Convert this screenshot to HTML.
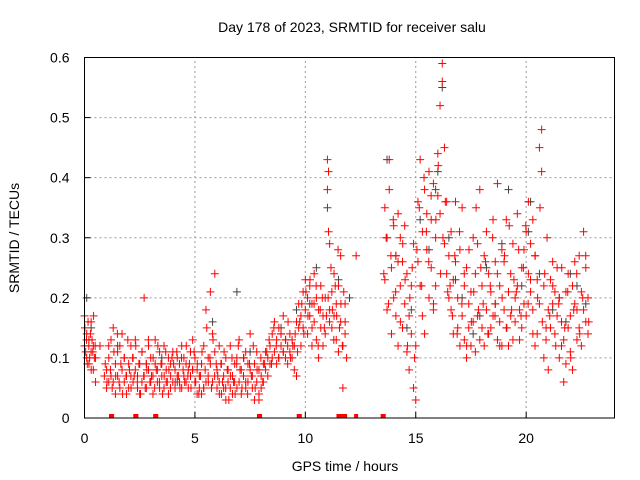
<!DOCTYPE html>
<html><head><meta charset="utf-8"><style>
html,body{margin:0;padding:0;background:#fff;}
svg{display:block;font-family:"Liberation Sans",sans-serif;}
</style></head><body>
<svg id="chart" width="640" height="480" viewBox="0 0 640 480">
<rect width="640" height="480" fill="#fff"/>
<text x="352" y="32" font-size="14" text-anchor="middle" fill="#000">Day 178 of 2023, SRMTID for receiver salu</text>
<text x="345" y="471" font-size="14" text-anchor="middle" fill="#000">GPS time / hours</text>
<text transform="translate(19,238) rotate(-90)" font-size="14" text-anchor="middle" fill="#000">SRMTID / TECUs</text>
<g id="grid"></g><g id="ticks"></g><g id="gray"></g><g id="red"></g>
<rect x="84.5" y="57.5" width="530" height="360.5" fill="none" stroke="#000" stroke-width="1"/>
</svg>
<script>
const xTicks=[0,5,10,15,20];
const yTicks=[0,0.1,0.2,0.3,0.4,0.5,0.6];
const yTickLabels=["0","0.1","0.2","0.3","0.4","0.5","0.6"];
const redTimes=[0,0.1,0.2,0.3,0.4,0.5,0.7,0.9,1.0,1.1,1.2,1.3,1.4,1.5,1.6,1.7,1.8,1.9,2.0,2.1,2.2,2.3,2.4,2.5,2.6,2.7,2.8,2.9,3.0,3.1,3.2,3.3,3.4,3.5,3.6,3.7,3.8,3.9,4.0,4.1,4.2,4.3,4.4,4.5,4.6,4.7,4.8,4.9,5.0,5.1,5.2,5.3,5.4,5.5,5.6,5.7,5.8,5.9,6.0,6.1,6.2,6.3,6.4,6.5,6.6,6.7,6.8,6.9,7.0,7.1,7.2,7.3,7.4,7.5,7.6,7.7,7.8,7.9,8.0,8.1,8.2,8.3,8.4,8.5,8.6,8.7,8.8,8.9,9.0,9.1,9.2,9.3,9.4,9.5,9.6,9.7,9.8,9.9,10.0,10.1,10.2,10.3,10.4,10.5,10.6,10.7,10.8,10.9,11.0,11.05,11.1,11.2,11.3,11.4,11.5,11.6,11.7,11.8,12.3,13.6,13.7,13.8,13.9,14.0,14.1,14.2,14.3,14.4,14.5,14.6,14.7,14.8,14.9,15.0,15.1,15.2,15.3,15.4,15.5,15.6,15.7,15.8,15.9,16.0,16.1,16.2,16.3,16.4,16.5,16.6,16.7,16.8,16.9,17.0,17.1,17.2,17.3,17.4,17.5,17.6,17.7,17.8,17.9,18.0,18.1,18.2,18.3,18.4,18.5,18.6,18.7,18.8,18.9,19.0,19.1,19.2,19.3,19.4,19.5,19.6,19.7,19.8,19.9,20.0,20.1,20.2,20.3,20.4,20.5,20.6,20.7,20.8,20.9,21.0,21.1,21.2,21.3,21.4,21.5,21.6,21.7,21.8,21.9,22.0,22.1,22.2,22.3,22.4,22.5,22.6,22.7,22.8];
const redValsA=[.12,.10,.13,.11,.08,.10,.12,.07,.08,.10,.13,.06,.09,.11,.05,.08,.10,.07,.09,.12,.06,.08,.05,.09,.11,.07,.05,.08,.06,.04,.09,.06,.11,.07,.05,.08,.10,.07,.06,.08,.10,.06,.12,.07,.09,.05,.11,.08,.06,.04,.07,.09,.05,.06,.10,.21,.14,.24,.08,.06,.04,.07,.10,.06,.05,.07,.09,.05,.06,.04,.07,.11,.06,.08,.05,.09,.06,.04,.07,.09,.08,.10,.12,.14,.11,.13,.10,.12,.11,.13,.09,.14,.10,.12,.07,.15,.17,.21,.18,.14,.22,.19,.16,.13,.18,.15,.17,.20,.43,.31,.18,.21,.17,.13,.22,.16,.12,.19,.27,.23,.30,.43,.25,.32,.17,.34,.22,.15,.19,.11,.08,.14,.05,.03,.36,.43,.31,.38,.28,.20,.33,.39,.30,.44,.52,.59,.45,.36,.27,.18,.23,.36,.20,.28,.17,.13,.25,.15,.21,.30,.11,.17,.38,.22,.12,.18,.24,.15,.33,.19,.39,.22,.12,.26,.15,.21,.17,.29,.20,.34,.13,.25,.19,.31,.24,.21,.18,.27,.14,.45,.48,.22,.15,.18,.23,.19,.14,.25,.10,.16,.13,.21,.24,.17,.22,.19,.13,.27,.21,.31,.25,.20];
const redValsB=[.17,.14,.09,.16,.12,.06,null,null,.05,.06,.07,.15,.04,.07,.12,.14,.06,.04,.05,.07,.10,.13,.07,.04,.06,.20,.09,.12,.10,.07,.13,.08,.05,.09,.12,.06,.04,.09,.11,.05,.07,.09,.05,.10,.06,.08,.07,.13,.10,.08,.05,.04,.12,.18,.07,.09,.06,.11,.05,.12,.09,.05,.03,.08,.12,.04,.06,.10,.13,.08,.10,.05,.09,.14,.07,.03,.11,.08,.05,.06,.11,.07,.09,.10,.16,.09,.15,.14,.17,.10,.12,.11,.13,.08,.16,.19,.12,.15,.23,.20,.17,.12,.24,.20,.10,.22,.12,.14,.38,.41,.29,.15,.24,.19,.11,.27,.05,.14,null,.35,.18,.38,.14,.20,.27,.12,.30,.26,.32,.24,.17,.22,.29,.12,.26,.22,.17,.14,.34,.41,.25,.18,.22,.37,.34,.56,.29,.24,.20,.31,.14,.26,.15,.12,.35,.22,.10,.19,.12,.16,.24,.29,.13,.15,.27,.31,.14,.21,.17,.26,.13,.16,.28,.18,.33,.12,.24,.13,.16,.22,.18,.15,.28,.17,.36,.29,.33,.12,.23,.19,.41,.10,.13,.08,.15,.26,.21,.17,.20,.12,.06,.09,.15,.11,.08,.26,.18,.15,.12,.18,.16,.14];
const denseStart=[0,0.9,2,3,4,5,6,7,8.2,9.7,11,13.5,15,16.5,18,19.5,21];
const denseEnd=[0.5,2,3,4,5,6,7,8.2,9.7,11,11.9,15,16.5,18,19.5,21,22.9];
const denseVals=[
[.15,.11,.13,.09,.16,.12,.10,.14,.08,.13,.11,.17,.10,.12],
[.09,.06,.12,.08,.05,.11,.07,.14,.06,.09,.04,.10,.07,.13],
[.08,.05,.10,.07,.12,.06,.09,.04,.11,.07,.05,.08,.13,.06],
[.07,.10,.05,.08,.12,.06,.09,.04,.07,.11,.06,.08,.05,.10],
[.09,.06,.11,.07,.05,.10,.08,.06,.12,.07,.09,.05,.08,.11],
[.06,.09,.04,.07,.11,.05,.08,.15,.06,.10,.05,.13,.07,.09],
[.07,.04,.09,.06,.11,.05,.08,.03,.07,.10,.06,.04,.09,.12],
[.08,.05,.10,.06,.04,.09,.07,.12,.05,.08,.03,.10,.06,.09],
[.11,.13,.09,.15,.12,.10,.14,.11,.13,.16,.10,.12,.14,.11],
[.16,.19,.14,.21,.17,.23,.15,.19,.22,.12,.18,.20,.15,.17],
[.20,.16,.25,.18,.13,.22,.17,.28,.15,.19,.12,.21,.16,.10],
[.24,.30,.19,.27,.33,.21,.26,.16,.29,.23,.12,.20,.25,.10],
[.28,.35,.22,.40,.31,.26,.37,.19,.33,.42,.24,.30,.36,.21],
[.22,.17,.27,.14,.31,.19,.24,.12,.28,.16,.21,.35,.18,.25],
[.19,.26,.14,.22,.30,.17,.24,.12,.20,.27,.15,.32,.18,.23],
[.21,.28,.17,.25,.32,.19,.23,.14,.27,.20,.35,.16,.24,.30],
[.17,.22,.12,.19,.25,.15,.21,.10,.18,.24,.14,.20,.27,.16]];
const zeroTimes=[1.2,1.25,2.3,2.35,3.2,3.25,7.9,7.95,9.7,9.75,11.5,11.6,11.7,11.8,12.3,13.5,13.55];
const grayTimes=[0.1,0.3,1.5,2.8,3.5,4.2,5.8,6.9,7.5,8.9,9.6,10.5,11.0,11.5,12.0,13.7,14.1,14.6,15.2,15.6,16.0,16.2,16.5,17.1,17.6,18.2,18.6,19.2,19.8,20.2,20.6,21.2,21.8,22.3,22.7,10.2,14.8,15.9,16.8,17.9,18.9,20.1,21.5,22.0];
const grayVals=[.20,.15,.12,.09,.10,.06,.16,.21,.11,.15,.18,.25,.35,.23,.20,.43,.27,.15,.33,.28,.41,.55,.30,.20,.14,.25,.19,.38,.22,.36,.24,.18,.16,.22,.19,.19,.18,.38,.23,.17,.29,.31,.20,.24];

const NS="http://www.w3.org/2000/svg";
const X0=84.5,X1=614.5,Y0=418,Y1=57.5,XMAX=24,YMAX=0.6;
function sx(t){return X0+(X1-X0)*t/XMAX;}
function sy(v){return Y0-(Y0-Y1)*v/YMAX;}
function mk(tag,attrs,parent){const e=document.createElementNS(NS,tag);for(const k in attrs)e.setAttribute(k,attrs[k]);parent.appendChild(e);return e;}
const grid=document.getElementById('grid'),ticks=document.getElementById('ticks');
xTicks.forEach((t,i)=>{
  if(t>0){const g=mk('line',{x1:sx(t),x2:sx(t),y1:Y0,y2:Y1,stroke:'#999','stroke-dasharray':'2,3','stroke-width':1},grid);
  
  }
  const l=mk('text',{x:sx(t),y:Y0+25,'font-size':14,'text-anchor':'middle'},ticks);l.textContent=String(t);
  
  
  mk('line',{x1:sx(t),x2:sx(t),y1:Y0,y2:Y0-6,stroke:'#000'},ticks);
});
yTicks.forEach((v,i)=>{
  if(v>0&&v<YMAX){const g=mk('line',{x1:X0,x2:X1,y1:sy(v),y2:sy(v),stroke:'#999','stroke-dasharray':'2,3','stroke-width':1},grid);
  
  }
  const l=mk('text',{x:X0-15,y:sy(v)+5,'font-size':14,'text-anchor':'end'},ticks);l.textContent=yTickLabels[i];
  
  
  mk('line',{x1:X0,x2:X0+6,y1:sy(v),y2:sy(v),stroke:'#000'},ticks);
});
function plus(t,v,color,parent,name){
  const x=sx(t),y=sy(v);
  const p=mk('path',{d:`M${x-4},${y}h8M${x},${y-4}v8`,stroke:color,'stroke-width':1,fill:'none'},parent);
  
  
}
const gray=document.getElementById('gray'),red=document.getElementById('red');
grayTimes.forEach((t,i)=>plus(t,grayVals[i],'#444',gray,'gray-point'));
redTimes.forEach((t,i)=>{plus(t,redValsA[i],'#ff0000',red,'red-point');if(redValsB[i]!=null)plus(t,redValsB[i],'#ff0000',red,'red-point');});
denseVals.forEach((row,r)=>{
  const a=denseStart[r],b=denseEnd[r];
  row.forEach((v,i)=>plus(a+(b-a)*(i+0.5)/row.length,v,'#ff0000',red,'red-point'));
});
zeroTimes.forEach(t=>{
  const r=mk('rect',{x:sx(t)-2,y:Y0-4,width:4,height:4,fill:'#ff0000'},red);
  
  
});
</script>
</body></html>
